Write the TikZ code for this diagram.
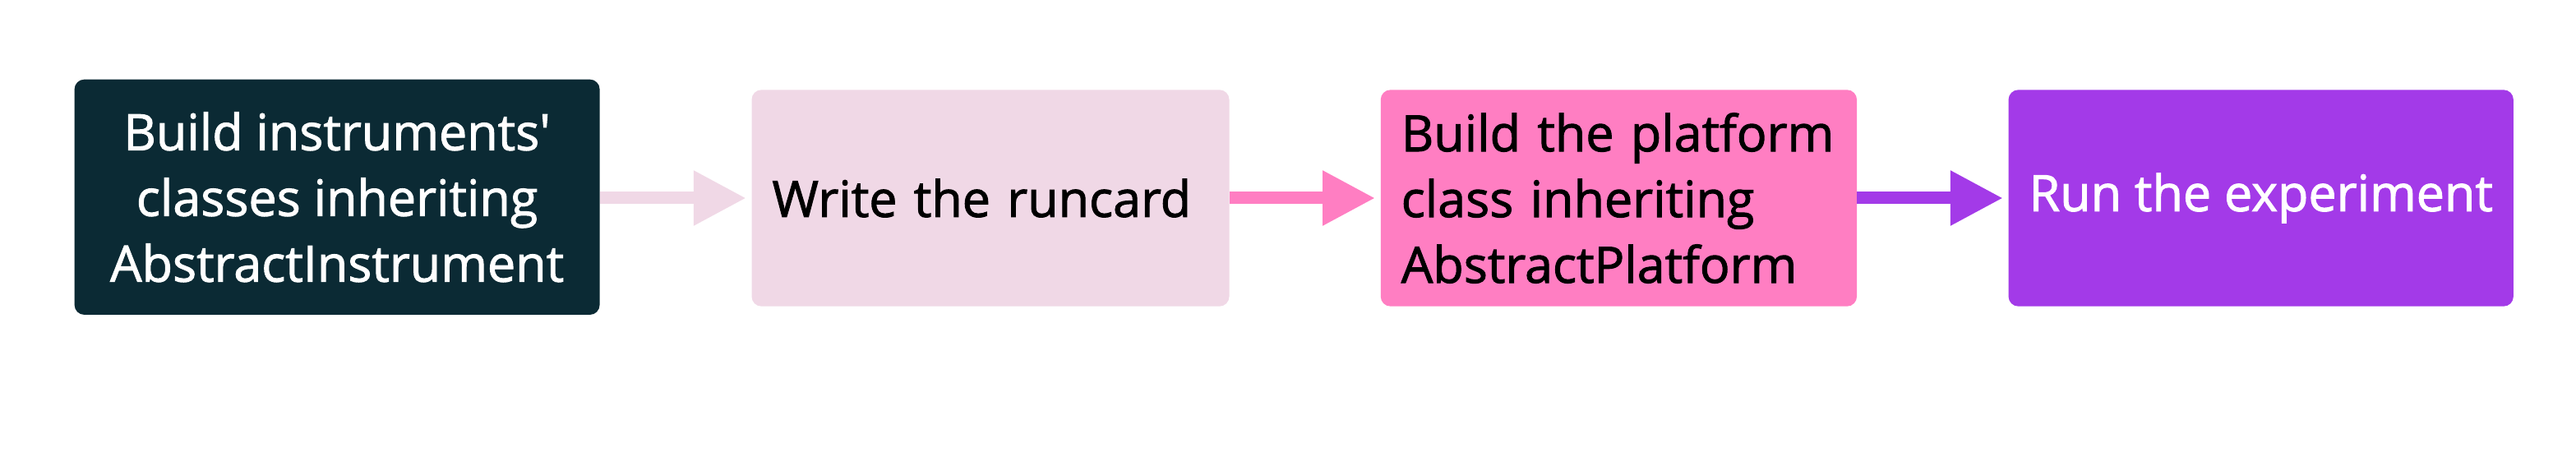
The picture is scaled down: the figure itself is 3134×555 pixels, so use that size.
\documentclass[tikz,border=0pt]{standalone}
\usepackage{fontspec}
\newfontfamily\lab{Open Sans}[FakeBold=1.6]
\usetikzlibrary{arrows.meta}
\definecolor{cdark}{HTML}{0B2A34}
\definecolor{clight}{HTML}{F0D8E6}
\definecolor{cpink}{HTML}{FF7EC2}
\definecolor{cpurple}{HTML}{A33AE8}
\tikzset{
  box/.style={rounded corners=12pt, inner xsep=25pt, inner ysep=0pt, minimum height=263.4pt,
    font=\lab\fontsize{61}{80}\selectfont},
  flow/.style={line width=15pt, -{Triangle[length=64pt,width=63pt]}, shorten >=6.5pt},
}
\begin{document}
\begin{tikzpicture}[x=1pt,y=1pt]
\fill[white] (0,0) rectangle (3134,555);
\useasboundingbox (0,0) rectangle (3134,555);
\node[box, fill=cdark, text=white, minimum height=286.3pt, minimum width=639pt, align=center] (b1) at (410.1,315.2)
  {Build instruments'\\classes inheriting\\AbstractInstrument};
\node[box, fill=clight, text=black, minimum width=581pt, text width=531pt, align=left] (b2) at (1205,314)
  {Write the runcard};
\node[box, fill=cpink, text=black, minimum width=579.3pt, text width=529.3pt, align=left] (b3) at (1969.4,314)
  {Build the platform\\class inheriting\\AbstractPlatform};
\node[box, fill=cpurple, text=white, minimum width=614.3pt, inner xsep=0pt, align=center] (b4) at (2750.7,314)
  {Run the experiment};
\draw[flow, draw=clight] (b1.east |- b2.west) -- (b2.west);
\draw[flow, draw=cpink] (b2.east) -- (b3.west);
\draw[flow, draw=cpurple] (b3.east) -- (b4.west);
\end{tikzpicture}
\end{document}
